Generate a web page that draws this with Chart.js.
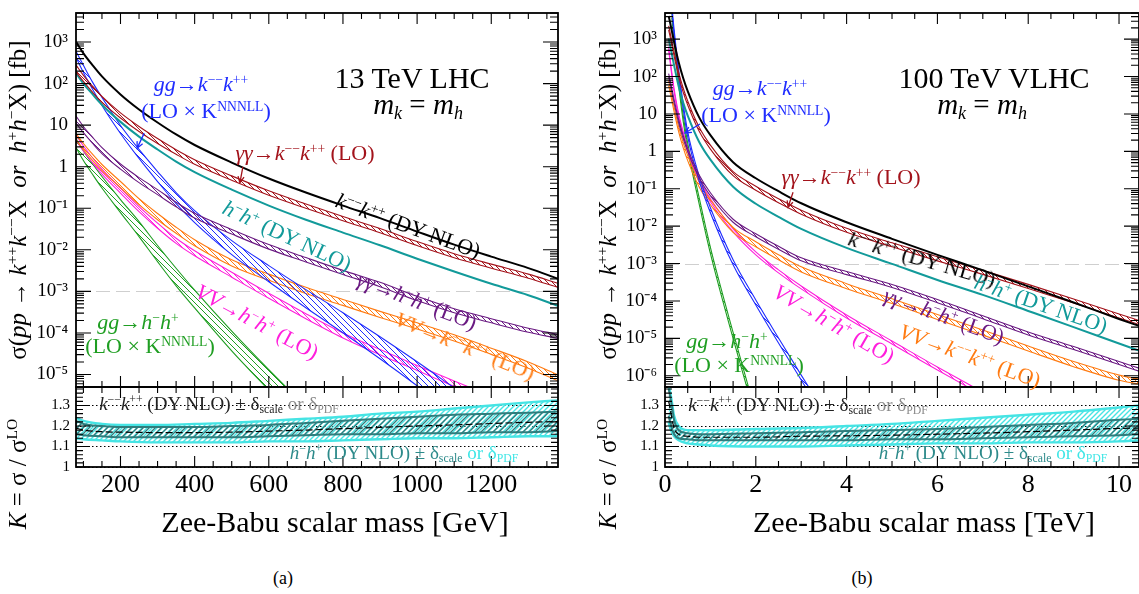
<!DOCTYPE html>
<html>
<head>
<meta charset="utf-8">
<script src="https://cdn.jsdelivr.net/npm/chart.js@4.4.1/dist/chart.umd.min.js"></script>
<style>
  html, body { margin:0; padding:0; background:#fff; }
  body { width:1139px; height:594px; position:relative; overflow:hidden; font-family:"Liberation Serif","Times New Roman",serif; }
  canvas { position:absolute; }
  .t { position:absolute; white-space:nowrap; line-height:1; transform-origin:50% 50%; }
  .t sup { font-size:62%; vertical-align:0.55em; line-height:0; }
  .t sub { font-size:62%; vertical-align:-0.3em; line-height:0; }
</style>
</head>
<body>
<canvas id="aMain" width="561" height="389" style="left:0px;top:0px"></canvas>
<canvas id="aRat" width="561" height="115" style="left:0px;top:385px"></canvas>
<canvas id="bMain" width="551" height="389" style="left:590px;top:0px"></canvas>
<canvas id="bRat" width="551" height="115" style="left:590px;top:385px"></canvas>
<script>
// ---------------- DATA : panel (a) 13 TeV LHC, mass in GeV, sigma in fb ----------------
const massA = [80, 100, 125, 150, 200, 250, 300, 350, 400, 500, 600, 700, 800, 900, 1000, 1100, 1200, 1300, 1380];
const kkDY_A   = [1010, 535, 275, 149, 55, 23.9, 11.6, 5.97, 3.33, 1.26, 0.52, 0.239, 0.116, 0.058, 0.0275, 0.0133, 0.00686, 0.00363, 0.00201];
const hhDY_A   = [180, 100, 55, 31, 12, 5.3, 2.6, 1.33, 0.74, 0.28, 0.116, 0.053, 0.026, 0.0129, 0.0061, 0.003, 0.00152, 0.00081, 0.00045];
const aaKKup_A = [282, 158, 86, 49, 19.7, 9.3, 4.77, 2.57, 1.48, 0.602, 0.263, 0.127, 0.0633, 0.0325, 0.0158, 0.00807, 0.00452, 0.0026, 0.00157];
const aaKKlo_A = [191, 113, 61.6, 35.2, 14.9, 7.05, 3.62, 1.99, 1.14, 0.473, 0.206, 0.1, 0.0502, 0.0258, 0.01265, 0.00646, 0.00362, 0.00208, 0.00125];
const ggKKup_A = [597, 275, 107, 46.5, 9.84, 2.6, 0.766, 0.239, 0.088, 0.0167, 0.00416, 0.0011, 3.07e-4, 8.1e-5, 2.02e-5, 4.79e-6, null, null, null];
const ggKKlo_A = [428, 186, 72.5, 29.8, 6.31, 1.58, 0.44, 0.13, 0.0452, 0.00766, 0.00171, 4.05e-4, 1.01e-4, 2.39e-5, 5.35e-6, 1.13e-6, null, null, null];
const aaHHup_A = [16.6, 9.3, 5.06, 2.88, 1.16, 0.547, 0.281, 0.14, 0.076, 0.031, 0.0134, 0.0065, 0.0032, 0.00165, 7.6e-4, 3.8e-4, 2.2e-4, 1.3e-4, 9.2e-5];
const aaHHlo_A = [11.2, 6.6, 3.62, 2.07, 0.876, 0.415, 0.213, 0.108, 0.058, 0.024, 0.0104, 0.0051, 0.00255, 0.0013, 6.0e-4, 3.05e-4, 1.75e-4, 1.04e-4, 7.4e-5];
const vvKKup_A = [6.31, 3.62, 1.97, 1.13, 0.44, 0.17, 0.075, 0.035, 0.0175, 0.0058, 0.0026, 0.00125, 6.4e-4, 3.3e-4, 1.75e-4, 9.0e-5, 4.3e-5, 2.0e-5, 9.84e-6];
const vvKKlo_A = [4.52, 2.6, 1.41, 0.81, 0.315, 0.122, 0.053, 0.025, 0.0125, 0.0041, 0.00185, 8.9e-4, 4.6e-4, 2.35e-4, 1.25e-4, 6.4e-5, 3.05e-5, 1.42e-5, 7.05e-6];
const vvHHup_A = [5.81, 3.15, 1.62, 0.88, 0.307, 0.11, 0.044, 0.019, 0.0095, 0.0029, 9.0e-4, 2.9e-4, 1.0e-4, 4.0e-5, 1.65e-5, 7.0e-6, 3.0e-6, null, null];
const vvHHlo_A = [4.4, 2.39, 1.23, 0.667, 0.232, 0.083, 0.033, 0.0143, 0.0072, 0.0022, 6.8e-4, 2.2e-4, 7.6e-5, 3.0e-5, 1.25e-5, 5.2e-6, 2.3e-6, null, null];
const ggHHup_A = [4.79, 2.39, 1.16, 0.581, 0.162, 0.0478, 0.0127, 0.0036, 0.00107, 1.1e-4, 1.3e-5, 1.67e-6, null, null, null, null, null, null, null];
const ggHHlo_A = [2.9, 1.41, 0.648, 0.307, 0.0788, 0.0208, 0.0052, 0.00136, 4.0e-4, 3.7e-5, 4.2e-6, 4.9e-7, null, null, null, null, null, null, null];

// ratio K = sigma/sigma_LO, panel (a)
const rMassA    = [80, 100, 150, 200, 300, 400, 500, 600, 700, 800, 900, 1000, 1100, 1200, 1300, 1380];
const hPdfUpA   = [1.24, 1.225, 1.21, 1.205, 1.205, 1.21, 1.215, 1.225, 1.235, 1.245, 1.26, 1.27, 1.285, 1.3, 1.315, 1.325];
const hPdfLoA   = [1.14, 1.135, 1.13, 1.125, 1.12, 1.12, 1.12, 1.125, 1.125, 1.13, 1.135, 1.14, 1.14, 1.145, 1.15, 1.15];
const hScaleUpA = [1.225, 1.21, 1.2, 1.195, 1.195, 1.195, 1.2, 1.205, 1.215, 1.225, 1.235, 1.245, 1.255, 1.26, 1.265, 1.27];
const hScaleLoA = [1.16, 1.155, 1.15, 1.145, 1.145, 1.145, 1.145, 1.15, 1.155, 1.16, 1.16, 1.165, 1.165, 1.17, 1.17, 1.175];
const kCentralA = [1.19, 1.18, 1.172, 1.17, 1.168, 1.168, 1.17, 1.175, 1.18, 1.187, 1.193, 1.2, 1.205, 1.212, 1.218, 1.222];

// ---------------- DATA : panel (b) 100 TeV VLHC, mass in TeV ----------------
const massB = [0.08, 0.1, 0.15, 0.2, 0.3, 0.4, 0.5, 0.75, 1, 1.5, 2, 2.5, 3, 3.5, 4, 5, 6, 7, 8, 9, 10, 10.44];
const kkDY_B   = [4180, 3270, 1660, 841, 245, 91.4, 41.0, 8.24, 2.72, 0.513, 0.191, 0.0859, 0.0409, null, 0.0127, 0.00458, 0.00171, 6.57e-4, 2.45e-4, 9.12e-5, 3.3e-5, 2.15e-5];
const hhDY_B   = [1050, 800, 400, 200, 55, 20.1, 9.0, 1.81, 0.6, 0.113, 0.0396, 0.0178, 0.00845, null, 0.00262, 9.8e-4, 3.64e-4, 1.45e-4, 5.4e-5, 2.0e-5, 7.3e-6, 4.7e-6];
const aaKKup_B = [2260, 1760, 895, 454, 132, 49.3, 22.1, 4.45, 1.47, 0.286, 0.117, 0.0541, 0.0266, null, 0.00875, 0.00358, 0.00151, 6.56e-4, 2.77e-4, 1.13e-4, 4.49e-5, 3.0e-5];
const aaKKlo_B = [1760, 1380, 700, 355, 103, 38.5, 17.3, 3.48, 1.15, 0.223, 0.0913, 0.0422, 0.0208, null, 0.00684, 0.0028, 0.00118, 5.13e-4, 2.16e-4, 8.85e-5, 3.51e-5, 2.35e-5];
const ggKKup_B = [null, null, 8000, 1820, 154, 19.0, 3.37, 0.223, 0.031, 0.00126, 1.06e-4, 1.02e-5, 1.04e-6, 1.13e-7, null, null, null, null, null, null, null, null];
const ggKKlo_B = [null, null, 5880, 1340, 113, 13.9, 2.47, 0.164, 0.0228, 9.23e-4, 7.82e-5, 7.5e-6, 7.66e-7, 8.3e-8, null, null, null, null, null, null, null, null];
const aaHHup_B = [120.5, 94.2, 47.8, 24.3, 7.06, 2.63, 1.18, 0.238, 0.0782, 0.0153, 0.00624, 0.00288, 0.00142, null, 6.1e-4, 2.75e-4, 1.09e-4, 4.0e-5, 1.48e-5, 6.04e-6, 2.4e-6, 1.6e-6];
const aaHHlo_B = [100.2, 78.3, 39.7, 20.1, 5.87, 2.19, 0.98, 0.197, 0.065, 0.0127, 0.00519, 0.0024, 0.00118, null, 5.05e-4, 2.3e-4, 9.0e-5, 3.35e-5, 1.23e-5, 5.02e-6, 1.99e-6, 1.33e-6];
const vvKKup_B = [78.3, 61.2, 31.0, 15.7, 4.58, 1.71, 0.767, 0.154, 0.0508, 0.00931, 0.00381, 0.00171, 8.15e-4, null, 2.9e-4, 1.15e-4, 4.35e-5, 1.67e-5, 6.2e-6, 2.4e-6, 1.04e-6, 8.1e-7];
const vvKKlo_B = [57.5, 45.0, 22.8, 11.6, 3.37, 1.26, 0.564, 0.113, 0.0373, 0.00684, 0.0028, 0.00126, 5.98e-4, null, 2.13e-4, 8.55e-5, 3.2e-5, 1.22e-5, 4.6e-6, 1.75e-6, 7.6e-7, 6.0e-7];
const vvHHup_B = [637, 389, 128, 47.8, 10.2, 3.37, 1.18, 0.185, 0.0541, 0.00849, 0.00206, 6.78e-4, 2.52e-4, null, 4.22e-5, 8.5e-6, 1.71e-6, 3.66e-7, null, null, null, null];
const vvHHlo_B = [530, 324, 107, 39.7, 8.5, 2.8, 0.982, 0.154, 0.0449, 0.00706, 0.00171, 5.63e-4, 2.1e-4, null, 3.51e-5, 7.05e-6, 1.42e-6, 3.0e-7, null, null, null, null];
const ggHHup_B = [null, null, 5360, 1300, 85.9, 9.31, 1.66, 0.0593, 0.00271, 1.44e-5, 1.03e-7, null, null, null, null, null, null, null, null, null, null, null];
const ggHHlo_B = [null, null, 3700, 895, 59.3, 6.44, 1.15, 0.0409, 0.00187, 9.9e-6, 7.1e-8, null, null, null, null, null, null, null, null, null, null, null];

const rMassB    = [0.08, 0.1, 0.15, 0.2, 0.3, 0.5, 0.75, 1, 2, 3, 4, 5, 6, 7, 8, 9, 10, 10.44];
const hPdfUpB   = [1.39, 1.38, 1.32, 1.25, 1.2, 1.18, 1.18, 1.18, 1.185, 1.19, 1.2, 1.21, 1.225, 1.24, 1.255, 1.27, 1.29, 1.3];
const hPdfLoB   = [1.22, 1.2, 1.17, 1.15, 1.13, 1.115, 1.11, 1.105, 1.1, 1.1, 1.105, 1.11, 1.115, 1.115, 1.12, 1.12, 1.125, 1.13];
const hScaleUpB = [1.38, 1.36, 1.3, 1.23, 1.18, 1.165, 1.16, 1.16, 1.165, 1.17, 1.175, 1.18, 1.185, 1.195, 1.205, 1.215, 1.23, 1.235];
const hScaleLoB = [1.25, 1.23, 1.19, 1.16, 1.14, 1.135, 1.13, 1.13, 1.13, 1.13, 1.13, 1.135, 1.135, 1.14, 1.145, 1.15, 1.155, 1.16];
const kCentralB = [1.32, 1.3, 1.24, 1.19, 1.16, 1.15, 1.145, 1.145, 1.145, 1.15, 1.152, 1.155, 1.16, 1.165, 1.172, 1.18, 1.188, 1.19];

// tick labels
const xTicksA = [200, 400, 600, 800, 1000, 1200];
const xTicksB = [0, 2, 4, 6, 8, 10];
const yTicksA = [1e-5, 1e-4, 1e-3, 1e-2, 1e-1, 1, 10, 100, 1000];
const yTicksB = [1e-6, 1e-5, 1e-4, 1e-3, 1e-2, 1e-1, 1, 10, 100, 1000];
const rTicks  = [1, 1.1, 1.2, 1.3];

// ---------------- STYLE ----------------
const FONT = 'Liberation Serif';
const C = { black:'#000000', red:'#a3131b', blue:'#1f2cff', teal:'#129a9a', purple:'#6a1a82', orange:'#ff7b12',
            magenta:'#ff1fdc', green:'#1f9e22', cyan:'#46e4e4', slate:'#2f7c7c', grey:'#8a8a8a' };

function hatch(color, gap, lw, dir) {
  const c = document.createElement('canvas'); c.width = gap; c.height = gap;
  const g = c.getContext('2d'); g.strokeStyle = color; g.lineWidth = lw; g.beginPath();
  if (dir > 0) {
    g.moveTo(-1, gap + 1); g.lineTo(gap + 1, -1);
    g.moveTo(-1, 1); g.lineTo(1, -1);
    g.moveTo(gap - 1, gap + 1); g.lineTo(gap + 1, gap - 1);
  } else {
    g.moveTo(-1, -1); g.lineTo(gap + 1, gap + 1);
    g.moveTo(gap - 1, -1); g.lineTo(gap + 1, 1);
    g.moveTo(-1, gap - 1); g.lineTo(1, gap + 1);
  }
  g.stroke();
  return g.createPattern(c, 'repeat');
}

const pts = (m, v) => m.map((x, i) => ({ x: x, y: v[i] }));
function ln(m, v, color, w, extra) {
  return Object.assign({ data: pts(m, v), borderColor: color, borderWidth: w, pointRadius: 0, fill: false,
    spanGaps: true, cubicInterpolationMode: 'monotone' }, extra || {});
}
function band(m, up, lo, color, w, pat) {
  return [ln(m, up, color, w), ln(m, lo, color, w, { fill: '-1', backgroundColor: pat })];
}

const SUP = { '-': '\u207B', '0': '\u2070', '1': '\u00B9', '2': '\u00B2', '3': '\u00B3', '4': '\u2074', '5': '\u2075', '6': '\u2076' };
function logLabel(v) {
  const e = Math.round(Math.log10(v));
  if (e === 0) return '1';
  if (e === 1) return '10';
  return '10' + String(e).split('').map(ch => SUP[ch]).join('');
}

function range(a, b, step) { const r = []; for (let v = a; v <= b + 1e-9; v += step) r.push(+v.toFixed(6)); return r; }
function logMinor(e0, e1) { const r = []; for (let e = e0; e <= e1; e++) for (let k = 2; k <= 9; k++) r.push(k * Math.pow(10, e)); return r; }

// ---------------- frame / ticks / arrows plugin ----------------
const framePlugin = {
  id: 'frame',
  beforeDatasetsDraw(chart, args, o) {
    const { ctx, chartArea: a, scales: { x, y } } = chart;
    ctx.save();
    (o.refLines || []).forEach(r => {
      const py = Math.round(y.getPixelForValue(r.v)) + 0.5;
      ctx.strokeStyle = r.color; ctx.lineWidth = r.w; ctx.setLineDash(r.dash);
      ctx.beginPath(); ctx.moveTo(a.left, py); ctx.lineTo(a.right, py); ctx.stroke();
    });
    ctx.restore();
  },
  afterDatasetsDraw(chart, args, o) {
    const { ctx, chartArea: a, scales: { x, y } } = chart;
    ctx.save();
    ctx.strokeStyle = '#000'; ctx.lineWidth = 1.1; ctx.setLineDash([]);
    ctx.beginPath();
    const vt = (v, len) => { const px = x.getPixelForValue(v); if (px < a.left + 1 || px > a.right - 1) return;
      ctx.moveTo(px, a.bottom); ctx.lineTo(px, a.bottom - len); ctx.moveTo(px, a.top); ctx.lineTo(px, a.top + len); };
    const ht = (v, len) => { const py = y.getPixelForValue(v); if (py < a.top || py > a.bottom) return;
      ctx.moveTo(a.left, py); ctx.lineTo(a.left + len, py); ctx.moveTo(a.right, py); ctx.lineTo(a.right - len, py); };
    o.xMajor.forEach(v => vt(v, o.xMajLen));
    o.xMinor.forEach(v => vt(v, o.xMinLen));
    o.yMajor.forEach(v => ht(v, o.yMajLen));
    o.yMinor.forEach(v => ht(v, o.yMinLen));
    ctx.stroke();
    ctx.lineWidth = 1.8;
    ctx.strokeRect(a.left, a.top, a.right - a.left, a.bottom - a.top);
    (o.arrows || []).forEach(ar => {
      const tx = x.getPixelForValue(ar.x), ty = y.getPixelForValue(ar.y);
      const sx = tx + ar.dx, sy = ty + ar.dy;
      const ang = Math.atan2(sy - ty, sx - tx);
      ctx.strokeStyle = ar.color; ctx.lineWidth = 1.3;
      ctx.beginPath(); ctx.moveTo(sx, sy); ctx.lineTo(tx, ty);
      ctx.moveTo(tx + 7 * Math.cos(ang + 0.45), ty + 7 * Math.sin(ang + 0.45)); ctx.lineTo(tx, ty);
      ctx.lineTo(tx + 7 * Math.cos(ang - 0.45), ty + 7 * Math.sin(ang - 0.45));
      ctx.stroke();
    });
    ctx.restore();
  }
};

function yLogAxis(ticks, min, max, width) {
  return { type: 'logarithmic', min: min, max: max,
    afterFit: s => { s.width = width; s.paddingTop = 0; s.paddingBottom = 0; },
    afterBuildTicks: s => { s.ticks = ticks.map(v => ({ value: v })); },
    grid: { display: false, drawTicks: false }, border: { display: false },
    ticks: { autoSkip: false, padding: 8, color: '#000', font: { family: FONT, size: 19 }, callback: v => logLabel(v) } };
}

function mainChart(id, datasets, xr, yr, yTicks, yW, pad, extra) {
  return new Chart(document.getElementById(id), {
    type: 'line',
    data: { datasets: datasets },
    options: {
      responsive: false, animation: false, devicePixelRatio: 1,
      layout: { padding: pad },
      plugins: { legend: { display: false }, tooltip: { enabled: false }, frame: extra },
      scales: { x: { type: 'linear', min: xr[0], max: xr[1], display: false }, y: yLogAxis(yTicks, yr[0], yr[1], yW) }
    },
    plugins: [framePlugin]
  });
}

function ratioChart(id, datasets, xr, xTicks, yW, pad, extra) {
  return new Chart(document.getElementById(id), {
    type: 'line',
    data: { datasets: datasets },
    options: {
      responsive: false, animation: false, devicePixelRatio: 1,
      layout: { padding: pad },
      plugins: { legend: { display: false }, tooltip: { enabled: false }, frame: extra },
      scales: {
        x: { type: 'linear', min: xr[0], max: xr[1],
          afterFit: s => { s.height = 33; s.paddingLeft = 0; s.paddingRight = 0; },
          afterBuildTicks: s => { s.ticks = xTicks.map(v => ({ value: v })); },
          grid: { display: false, drawTicks: false }, border: { display: false },
          ticks: { autoSkip: false, maxRotation: 0, padding: 3, color: '#000', font: { family: FONT, size: 26 }, callback: v => String(v) } },
        y: { type: 'linear', min: 1.0, max: 1.39,
          afterFit: s => { s.width = yW; s.paddingTop = 0; s.paddingBottom = 0; },
          afterBuildTicks: s => { s.ticks = rTicks.map(v => ({ value: v })); },
          grid: { display: false, drawTicks: false }, border: { display: false },
          ticks: { autoSkip: false, padding: 6, color: '#000', font: { family: FONT, size: 15 }, callback: v => (v === 1 ? '1' : v.toFixed(1)) } }
      }
    },
    plugins: [framePlugin]
  });
}

function mainSets(m, d) {
  return [
    ln(m, d.kk, C.black, 2),
    ...band(m, d.aaKKup, d.aaKKlo, C.red, 1.1, hatch(C.red, 5, 1, -1)),
    ln(m, d.hh, C.teal, 2),
    ...band(m, d.aaHHup, d.aaHHlo, C.purple, 1.1, hatch(C.purple, 5, 1, -1)),
    ...band(m, d.ggKKup, d.ggKKlo, C.blue, 1.1, hatch(C.blue, 6, 1, -1)),
    ...band(m, d.vvKKup, d.vvKKlo, C.orange, 1.1, hatch(C.orange, 5, 1, -1)),
    ...band(m, d.vvHHup, d.vvHHlo, C.magenta, 1.1, hatch(C.magenta, 5, 1, -1)),
    ...band(m, d.ggHHup, d.ggHHlo, C.green, 1.1, hatch(C.green, 6, 1, -1))
  ];
}
function ratioSets(m, pu, pl, su, sl, kc) {
  return [
    ln(m, kc, '#000', 1.2, { borderDash: [7, 3] }),
    ln(m, su, C.slate, 2),
    ln(m, sl, C.slate, 2, { fill: '-1', backgroundColor: hatch(C.slate, 6, 1.3, 1) }),
    ln(m, pu, C.cyan, 2.4),
    ln(m, pl, C.cyan, 2.4, { fill: '-1', backgroundColor: hatch(C.cyan, 5, 1.4, 1) })
  ];
}

const refMain = [{ v: 1e-3, color: '#cfcfcf', w: 1, dash: [14, 6] }];
const refRatio = rTicks.map(v => ({ v: v, color: '#000', w: 1, dash: [1.5, 2.5] }));

// ---- panel (a)
mainChart('aMain', mainSets(massA, { kk: kkDY_A, hh: hhDY_A, aaKKup: aaKKup_A, aaKKlo: aaKKlo_A, ggKKup: ggKKup_A, ggKKlo: ggKKlo_A,
  aaHHup: aaHHup_A, aaHHlo: aaHHlo_A, vvKKup: vvKKup_A, vvKKlo: vvKKlo_A, vvHHup: vvHHup_A, vvHHlo: vvHHlo_A, ggHHup: ggHHup_A, ggHHlo: ggHHlo_A }),
  [80, 1380], [5e-6, 5e3], yTicksA, 76, { top: 13, right: 3, bottom: 2, left: 0 },
  { refLines: refMain, xMajor: xTicksA, xMinor: range(100, 1350, 50).filter(v => v % 200 !== 0), xMajLen: 11, xMinLen: 6,
    yMajor: yTicksA, yMinor: logMinor(-6, 3), yMajLen: 15, yMinLen: 8,
    arrows: [{ x: 245, y: 2.8, dx: 7, dy: -15, color: C.blue }, { x: 522, y: 0.41, dx: 3, dy: -16, color: C.red }] });
ratioChart('aRat', ratioSets(rMassA, hPdfUpA, hPdfLoA, hScaleUpA, hScaleLoA, kCentralA), [80, 1380], xTicksA, 76,
  { top: 2, right: 3, bottom: 0, left: 0 },
  { refLines: refRatio, xMajor: xTicksA, xMinor: range(100, 1350, 50).filter(v => v % 200 !== 0), xMajLen: 11, xMinLen: 6,
    yMajor: rTicks, yMinor: range(1.02, 1.38, 0.02), yMajLen: 14, yMinLen: 7 });

// ---- panel (b)
mainChart('bMain', mainSets(massB, { kk: kkDY_B, hh: hhDY_B, aaKKup: aaKKup_B, aaKKlo: aaKKlo_B, ggKKup: ggKKup_B, ggKKlo: ggKKlo_B,
  aaHHup: aaHHup_B, aaHHlo: aaHHlo_B, vvKKup: vvKKup_B, vvKKlo: vvKKlo_B, vvHHup: vvHHup_B, vvHHlo: vvHHlo_B, ggHHup: ggHHup_B, ggHHlo: ggHHlo_B }),
  [0, 10.44], [5e-7, 5e3], yTicksB, 75, { top: 13, right: 2, bottom: 2, left: 0 },
  { refLines: refMain, xMajor: xTicksB, xMinor: range(0.5, 10.4, 0.5).filter(v => v % 2 !== 0), xMajLen: 11, xMinLen: 6,
    yMajor: yTicksB, yMinor: logMinor(-7, 3), yMajLen: 15, yMinLen: 8,
    arrows: [{ x: 0.44, y: 3.1, dx: 15, dy: -9, color: C.blue }, { x: 2.71, y: 0.032, dx: 5, dy: -15, color: C.red }] });
ratioChart('bRat', ratioSets(rMassB, hPdfUpB, hPdfLoB, hScaleUpB, hScaleLoB, kCentralB), [0, 10.44], xTicksB, 75,
  { top: 2, right: 2, bottom: 0, left: 0 },
  { refLines: refRatio, xMajor: xTicksB, xMinor: range(0.5, 10.4, 0.5).filter(v => v % 2 !== 0), xMajLen: 11, xMinLen: 6,
    yMajor: rTicks, yMinor: range(1.02, 1.38, 0.02), yMajLen: 14, yMinLen: 7 });

// ---------------- text annotations ----------------
function put(html, x, y, size, color, rot) {
  const d = document.createElement('div'); d.className = 't'; d.innerHTML = html;
  d.style.left = x + 'px'; d.style.top = y + 'px'; d.style.fontSize = size + 'px'; d.style.color = color || '#000';
  d.style.transform = 'translate(-50%,-50%) rotate(' + (rot || 0) + 'deg)';
  document.body.appendChild(d);
}
const kk = '<i>k</i><sup>&minus;&minus;</sup><i>k</i><sup>++</sup>';
const hh = '<i>h</i><sup>&minus;</sup><i>h</i><sup>+</sup>';
const lok = '(LO &times; K<sup>NNNLL</sup>)';
const ytitle = '&sigma;(<i>pp</i> &rarr; <i>k</i><sup>++</sup><i>k</i><sup>&minus;&minus;</sup>X&nbsp; <i>or</i>&nbsp; <i>h</i><sup>+</sup><i>h</i><sup>&minus;</sup>X) [fb]';
const rtitle = '<i>K</i> = &sigma; / &sigma;<sup>LO</sup>';

[0, 590].forEach(ox => {
  put(ytitle, ox + 17, 200, 25, '#000', -90);
  put(rtitle, ox + 17, 474, 25, '#000', -90);
});
put('Zee-Babu scalar mass [GeV]', 335, 522, 30);
put('Zee-Babu scalar mass [TeV]', 924, 522, 30);
put('(a)', 283, 578, 18);
put('(b)', 862, 578, 18);

// panel (a) labels
put('13 TeV LHC', 412, 78, 30);
put('<i>m<sub>k</sub></i> = <i>m<sub>h</sub></i>', 418, 104, 29);
put('<i>gg</i>&rarr;' + kk, 201, 84, 22, C.blue);
put(lok, 206, 111, 22, C.blue);
put('<i>&gamma;&gamma;</i>&rarr;' + kk + ' (LO)', 305, 153, 22, C.red);
put(kk + ' (DY NLO)', 408, 226, 22, '#000', 20);
put(hh + ' (DY NLO)', 287, 236, 22, C.teal, 25);
put('<i>&gamma;&gamma;</i>&rarr;' + hh + ' (LO)', 417, 301, 22, C.purple, 21);
put('<i>VV</i>&rarr;' + kk + ' (LO)', 465, 346, 22, C.orange, 22);
put('<i>VV</i>&rarr;' + hh + ' (LO)', 257, 322, 22, C.magenta, 28);
put('<i>gg</i>&rarr;' + hh, 138, 322, 22, C.green);
put(lok, 150, 346, 22, C.green);
put(kk + ' (DY NLO) &plusmn; &delta;<sub>scale</sub> <span style="color:#8a8a8a">or &delta;<sub>PDF</sub></span>', 219, 403, 19, '#222');
put(hh + ' (DY NLO) &plusmn; &delta;<sub>scale</sub> <span style="color:#3fe6e6">or &delta;<sub>PDF</sub></span>', 404, 452, 19, '#2c8a8a');

// panel (b) labels
put('100 TeV VLHC', 994, 78, 30);
put('<i>m<sub>k</sub></i> = <i>m<sub>h</sub></i>', 982, 104, 29);
put('<i>gg</i>&rarr;' + kk, 760, 88, 22, C.blue);
put(lok, 766, 115, 22, C.blue);
put('<i>&gamma;&gamma;</i>&rarr;' + kk + ' (LO)', 851, 177, 22, C.red);
put(kk + ' (DY NLO)', 922, 259, 22, '#000', 16);
put(hh + ' (DY NLO)', 1041, 304, 22, C.teal, 19);
put('<i>&gamma;&gamma;</i>&rarr;' + hh + ' (LO)', 944, 316, 22, C.purple, 20);
put('<i>VV</i>&rarr;' + hh + ' (LO)', 834, 324, 22, C.magenta, 30);
put('<i>VV</i>&rarr;' + kk + ' (LO)', 970, 356, 22, C.orange, 20);
put('<i>gg</i>&rarr;' + hh, 727, 341, 22, C.green);
put(lok, 739, 365, 22, C.green);
put(kk + ' (DY NLO) &plusmn; &delta;<sub>scale</sub> <span style="color:#8a8a8a">or &delta;<sub>PDF</sub></span>', 808, 404, 19, '#222');
put(hh + ' (DY NLO) &plusmn; &delta;<sub>scale</sub> <span style="color:#3fe6e6">or &delta;<sub>PDF</sub></span>', 993, 452, 19, '#2c8a8a');
</script>
</body>
</html>
